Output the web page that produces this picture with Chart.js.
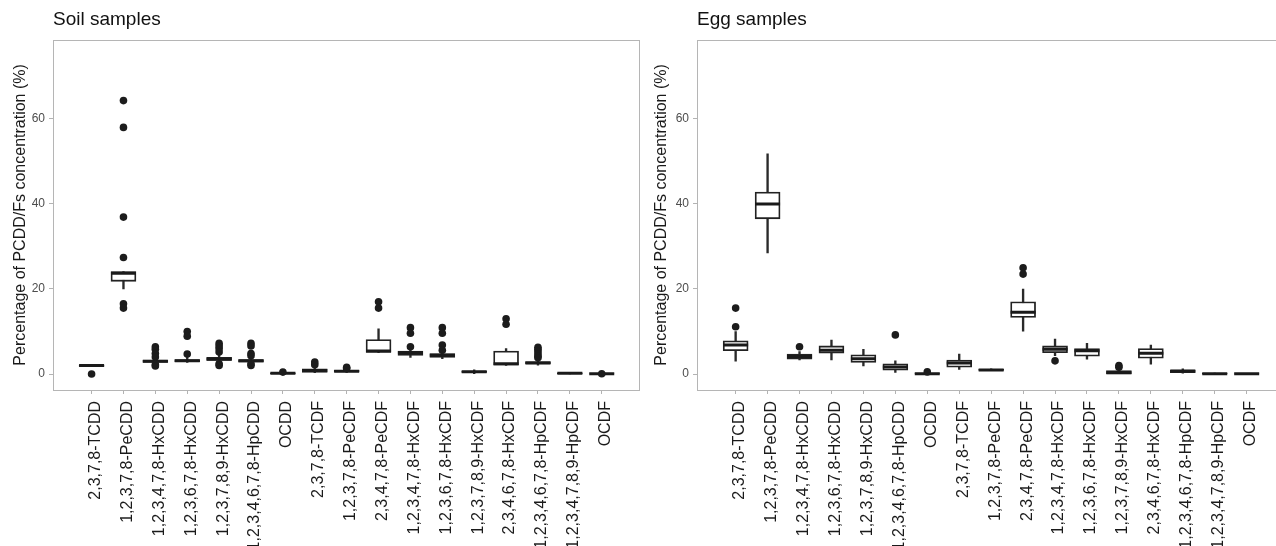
<!DOCTYPE html>
<html>
<head>
<meta charset="utf-8">
<script src="https://cdn.jsdelivr.net/npm/chart.js@4.4.1/dist/chart.umd.min.js"></script>
<style>
html, body { margin:0; padding:0; background:#fff; overflow:hidden; width:1276px; height:546px; }
canvas { position:absolute; top:0; }
#soil { left:0; }
#egg { left:644px; }
</style>
</head>
<body>
<canvas id="soil" width="641" height="546"></canvas>
<canvas id="egg" width="642" height="546"></canvas>
<script>
const categories = ['2,3,7,8-TCDD','1,2,3,7,8-PeCDD','1,2,3,4,7,8-HxCDD','1,2,3,6,7,8-HxCDD','1,2,3,7,8,9-HxCDD','1,2,3,4,6,7,8-HpCDD','OCDD','2,3,7,8-TCDF','1,2,3,7,8-PeCDF','2,3,4,7,8-PeCDF','1,2,3,4,7,8-HxCDF','1,2,3,6,7,8-HxCDF','1,2,3,7,8,9-HxCDF','2,3,4,6,7,8-HxCDF','1,2,3,4,6,7,8-HpCDF','1,2,3,4,7,8,9-HpCDF','OCDF'];
const yTicks = [0, 20, 40, 60];
const yTitle = 'Percentage of PCDD/Fs concentration (%)';

// Soil samples
const soilLow    = [1.7, 20.0, 2.4, 2.7, 2.7, 2.6, 0.05, 0.3, 0.4, 5.0, 3.9, 3.6, 0.1, 2.0, 2.1, 0.05, -0.05];
const soilQ1     = [1.8, 21.8, 2.7, 2.9, 3.2, 2.8, 0.1, 0.4, 0.5, 5.1, 4.4, 3.9, 0.35, 2.1, 2.4, 0.1, 0.0];
const soilMedian = [2.0, 23.7, 3.0, 3.1, 3.5, 3.1, 0.15, 0.8, 0.65, 5.4, 5.0, 4.4, 0.55, 2.4, 2.6, 0.15, 0.05];
const soilQ3     = [2.1, 24.1, 3.3, 3.4, 3.9, 3.4, 0.25, 1.2, 0.85, 8.1, 5.4, 4.8, 0.7, 5.4, 2.9, 0.25, 0.12];
const soilHigh   = [2.3, 24.1, 3.8, 3.9, 4.4, 4.0, 0.3, 1.5, 1.0, 10.6, 5.9, 5.3, 1.0, 6.0, 3.4, 0.3, 0.15];
const soilOutliers = [
  [0.0],
  [64.3, 58.0, 36.9, 27.4, 16.5, 15.5],
  [6.4, 5.8, 4.8, 4.0, 2.2, 1.9],
  [10.0, 8.9, 4.7],
  [7.2, 6.6, 6.0, 5.2, 2.4, 2.0],
  [7.2, 6.6, 4.8, 4.3, 2.4, 2.0],
  [0.45],
  [2.8, 2.2],
  [1.6, 1.3],
  [17.0, 15.5],
  [10.9, 9.6, 6.4],
  [10.9, 9.6, 6.8, 5.6],
  [],
  [13.0, 11.7],
  [6.3, 5.8, 5.3, 4.7, 4.2, 3.8],
  [],
  [0.05]
];

// Egg samples
const eggLow    = [3.0, 28.5, 3.3, 3.3, 1.9, 0.4, -0.05, 1.1, 0.8, 10.1, 4.3, 3.5, 0.0, 2.3, 0.2, 0.0, -0.05];
const eggQ1     = [5.5, 36.5, 3.5, 4.9, 2.7, 0.9, 0.0, 1.6, 0.85, 13.3, 5.0, 4.2, 0.05, 3.7, 0.3, 0.02, 0.0];
const eggMedian = [6.8, 40.0, 4.1, 5.6, 3.6, 1.65, 0.05, 2.6, 0.95, 14.5, 5.8, 5.5, 0.3, 4.9, 0.7, 0.08, 0.05];
const eggQ3     = [7.8, 42.8, 4.7, 6.6, 4.5, 2.4, 0.2, 3.3, 1.1, 17.0, 6.6, 6.0, 0.8, 6.0, 0.95, 0.15, 0.12];
const eggHigh   = [10.0, 51.8, 5.3, 8.0, 5.8, 3.1, 0.25, 4.7, 1.2, 20.0, 8.2, 7.2, 1.1, 6.8, 1.2, 0.2, 0.15];
const eggOutliers = [
  [15.5, 11.1],
  [],
  [6.4],
  [],
  [],
  [9.2],
  [0.5],
  [],
  [],
  [25.0, 23.5],
  [3.1],
  [],
  [2.0, 1.6],
  [],
  [],
  [],
  []
];

Chart.defaults.font.family = "'Liberation Sans', Arial, Helvetica, sans-serif";

const framePlugin = {
  id: 'frame',
  beforeDatasetsDraw(chart) {
    const { ctx, chartArea: a } = chart;
    ctx.save();
    ctx.strokeStyle = '#b5b5b5';
    ctx.lineWidth = 1;
    ctx.strokeRect(Math.round(a.left) + 0.5, Math.round(a.top) + 0.5, Math.round(a.right - a.left) - 1, Math.round(a.bottom - a.top));
    ctx.restore();
  }
};

function makeChart(id, title, low, q1, med, q3, high, outliers, yTitlePad) {
  const points = [];
  outliers.forEach((arr, i) => arr.forEach(v => points.push({ x: i, y: v })));
  return new Chart(document.getElementById(id), {
    type: 'bar',
    data: {
      datasets: [
        { type: 'bar', data: categories.map((c, i) => ({ x: i, y: [low[i], high[i]] })),
          backgroundColor: '#2a2a2a', borderWidth: 0, barThickness: 1.7, grouped: false, order: 3 },
        { type: 'bar', data: categories.map((c, i) => ({ x: i, y: [q1[i], q3[i]] })),
          backgroundColor: '#ffffff', borderColor: '#222222', borderWidth: 1.8, borderSkipped: false,
          barThickness: 25, grouped: false, order: 2 },
        { type: 'scatter', data: categories.map((c, i) => ({ x: i, y: med[i] })),
          pointStyle: 'line', pointRadius: 12.5, pointBorderWidth: 3, borderColor: '#1a1a1a',
          backgroundColor: '#1a1a1a', order: 1 },
        { type: 'scatter', data: points, pointRadius: 3.8, pointBorderWidth: 0,
          backgroundColor: '#1c1c1c', borderColor: '#1c1c1c', order: 0 }
      ]
    },
    options: {
      responsive: false,
      animation: false,
      events: [],
      layout: { autoPadding: false, padding: { top: 0, left: 0, right: 1, bottom: 0 } },
      plugins: {
        legend: { display: false },
        tooltip: { enabled: false },
        title: { display: true, text: title, align: 'start', fullSize: false,
          color: '#111111', font: { size: 19, weight: 'normal' }, padding: { top: 8, bottom: 9 } }
      },
      scales: {
        x: {
          type: 'linear', min: -1.21, max: 17.2, offset: false,
          afterBuildTicks: s => { s.ticks = categories.map((c, i) => ({ value: i })); },
          afterFit: s => { s.height = 156; s.paddingLeft = 0; s.paddingRight = 0; },
          ticks: { autoSkip: false, minRotation: 90, maxRotation: 90, padding: 7, labelOffset: 4,
            color: '#1a1a1a', font: { size: 16 }, callback: v => categories[v] },
          grid: { drawOnChartArea: false, tickLength: 4, color: '#b3b3b3', offset: false },
          border: { display: false }
        },
        y: {
          min: -3.76, max: 78.6,
          afterBuildTicks: s => { s.ticks = yTicks.map(v => ({ value: v })); },
          afterFit: s => { s.width = 53; s.paddingTop = 0; s.paddingBottom = 0; },
          ticks: { color: '#4d4d4d', font: { size: 12 }, padding: 4 },
          grid: { drawOnChartArea: false, tickLength: 4, color: '#b3b3b3' },
          border: { display: false },
          title: { display: true, text: yTitle, color: '#1a1a1a', font: { size: 16 },
            padding: { top: yTitlePad, bottom: 0 } }
        }
      }
    },
    plugins: [framePlugin]
  });
}

makeChart('soil', 'Soil samples', soilLow, soilQ1, soilMedian, soilQ3, soilHigh, soilOutliers, 11);
makeChart('egg', 'Egg samples', eggLow, eggQ1, eggMedian, eggQ3, eggHigh, eggOutliers, 8);
</script>
</body>
</html>
